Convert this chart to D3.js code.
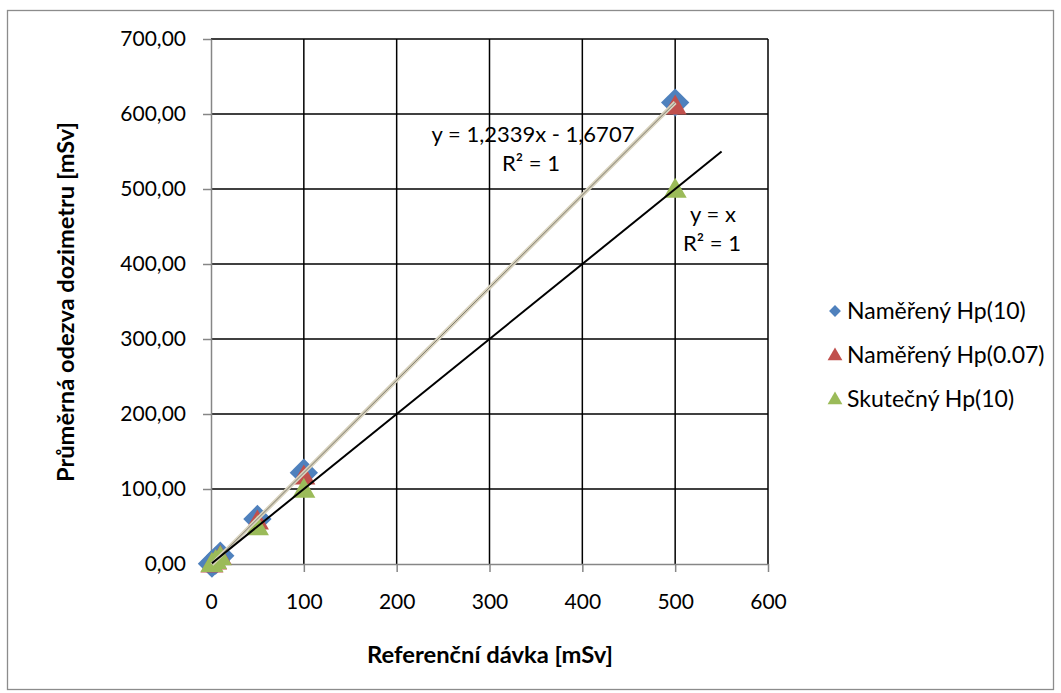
<!DOCTYPE html>
<html>
<head>
<meta charset="utf-8">
<script src="https://cdn.jsdelivr.net/npm/d3@7"></script>
<style>
  html, body { margin: 0; padding: 0; background: #fff; }
  svg { display: block; font-family: Lato, "Open Sans", sans-serif; }
</style>
</head>
<body>
<svg id="chart" width="1061" height="693"></svg>
<script>
// Reference doses [mSv]
const referenceDose = [1, 5, 10, 50, 100, 500];
// Mean dosimeter response [mSv]
const measuredHp10 = [0.4, 4.5, 11.0, 60.0, 121.7, 615.3];
const measuredHp007 = [0.3, 4.2, 10.5, 57.5, 117.5, 611.0];
const trueHp10 = [1, 5, 10, 50, 100, 500];

const seriesNames = ["Naměřený Hp(10)", "Naměřený Hp(0.07)", "Skutečný Hp(10)"];
const seriesColors = ["#4f81bd", "#c0504d", "#9bbb59"];

const xTicks = [0, 100, 200, 300, 400, 500, 600];
const yTicks = [0, 100, 200, 300, 400, 500, 600, 700];

// Linear trend fitted to Hp(10): slope, intercept
const fitSlope = 1.2339, fitIntercept = -1.6707;

const svg = d3.select("#chart");

// Outer chart border
svg.append("rect").attr("x", 7.5).attr("y", 10.5).attr("width", 1046).attr("height", 679)
  .attr("fill", "#fff").attr("stroke", "#8c8c8c").attr("stroke-width", 1.3);

const x = d3.scaleLinear().domain([0, 600]).range([211, 768]);
const y = d3.scaleLinear().domain([0, 700]).range([564, 39]);

const comma = v => d3.format(".2f")(v).replace(".", ",");

// Gridlines
const grid = svg.append("g");
grid.selectAll("line.h").data(yTicks.filter(d => d > 0)).join("line")
  .attr("x1", x(0)).attr("x2", x(600)).attr("y1", d => y(d)).attr("y2", d => y(d))
  .attr("stroke", "#000").attr("stroke-width", 1.5);
grid.selectAll("line.v").data(xTicks.filter(d => d > 0)).join("line")
  .attr("x1", d => x(d)).attr("x2", d => x(d)).attr("y1", y(0)).attr("y2", y(700))
  .attr("stroke", "#000").attr("stroke-width", 1.5);

// Axes
const yAxis = svg.append("g").attr("transform", `translate(${x(0)},0)`)
  .call(d3.axisLeft(y).tickValues(yTicks).tickFormat(comma).tickSize(8).tickSizeOuter(0).tickPadding(17));
const xAxis = svg.append("g").attr("transform", `translate(0,${y(0)})`)
  .call(d3.axisBottom(x).tickValues(xTicks).tickSize(8).tickSizeOuter(0).tickPadding(22));
[yAxis, xAxis].forEach(a => {
  a.select(".domain").attr("stroke", "#868686").attr("stroke-width", 1.5);
  a.selectAll(".tick line").attr("stroke", "#868686").attr("stroke-width", 1.5);
  a.selectAll("text").attr("font-size", 21).attr("fill", "#000").attr("font-family", "Lato, 'Open Sans', sans-serif");
});

// Axis titles
svg.append("text").attr("x", 490).attr("y", 663).attr("text-anchor", "middle")
  .attr("font-size", 22).attr("font-weight", "bold")
  .attr("textLength", 246).attr("lengthAdjust", "spacingAndGlyphs")
  .text("Referenční dávka [mSv]");
svg.append("text").attr("transform", "translate(74,302) rotate(-90)").attr("text-anchor", "middle")
  .attr("font-size", 22).attr("font-weight", "bold")
  .attr("textLength", 360).attr("lengthAdjust", "spacingAndGlyphs")
  .text("Průměrná odezva dozimetru [mSv]");

// Markers
const diamond = d3.symbol().type(d3.symbolSquare).size(400);
const tri = d3.symbol().type(d3.symbolTriangle).size(230);

const pts = svg.append("g");
pts.selectAll("path.d").data(referenceDose.map((r, i) => [r, measuredHp10[i]])).join("path")
  .attr("d", diamond).attr("fill", seriesColors[0])
  .attr("transform", d => `translate(${x(d[0])},${y(d[1])}) rotate(45)`);
pts.selectAll("path.r").data(referenceDose.map((r, i) => [r, measuredHp007[i]])).join("path")
  .attr("d", tri).attr("fill", seriesColors[1])
  .attr("transform", d => `translate(${x(d[0])},${y(d[1]) + 2})`);
pts.selectAll("path.g").data(referenceDose.map((r, i) => [r, trueHp10[i]])).join("path")
  .attr("d", tri).attr("fill", seriesColors[2])
  .attr("transform", d => `translate(${x(d[0])},${y(d[1]) + 2})`);

// Trendlines
const x0 = d3.min(referenceDose), x1 = d3.max(referenceDose);
const fitLine = [[x0, fitSlope * x0 + fitIntercept], [x1, fitSlope * x1 + fitIntercept]];
const line = d3.line().x(d => x(d[0])).y(d => y(d[1]));
svg.append("path").attr("d", line(fitLine)).attr("stroke", "#d8d2bd").attr("stroke-width", 4).attr("fill", "none");
svg.append("path").attr("d", line(fitLine)).attr("stroke", "#7d7a6e").attr("stroke-width", 1).attr("fill", "none");
// identity line with forward forecast to 550
const idLine = [[x0, x0], [550, 550]];
svg.append("path").attr("d", line(idLine)).attr("stroke", "#000").attr("stroke-width", 2).attr("fill", "none");

// Trendline labels
const lab = svg.append("g").attr("font-size", 22).attr("text-anchor", "middle");
lab.append("text").attr("x", 533).attr("y", 142).text("y = 1,2339x - 1,6707");
lab.append("text").attr("x", 531).attr("y", 171).text("R² = 1");
lab.append("text").attr("x", 713).attr("y", 222).text("y = x");
lab.append("text").attr("x", 712).attr("y", 251).text("R² = 1");

// Legend
const legend = svg.append("g").attr("transform", "translate(835,311)");
seriesNames.forEach((name, i) => {
  const g = legend.append("g").attr("transform", `translate(0,${i * 44})`);
  if (i === 0) {
    g.append("path").attr("d", d3.symbol().type(d3.symbolSquare).size(70)).attr("transform", "rotate(45)").attr("fill", seriesColors[i]);
  } else {
    g.append("path").attr("d", d3.symbol().type(d3.symbolTriangle).size(95)).attr("transform", "translate(0,1)").attr("fill", seriesColors[i]);
  }
  g.append("text").attr("x", 12).attr("y", 8).attr("font-size", 23).text(name);
});
</script>
</body>
</html>
